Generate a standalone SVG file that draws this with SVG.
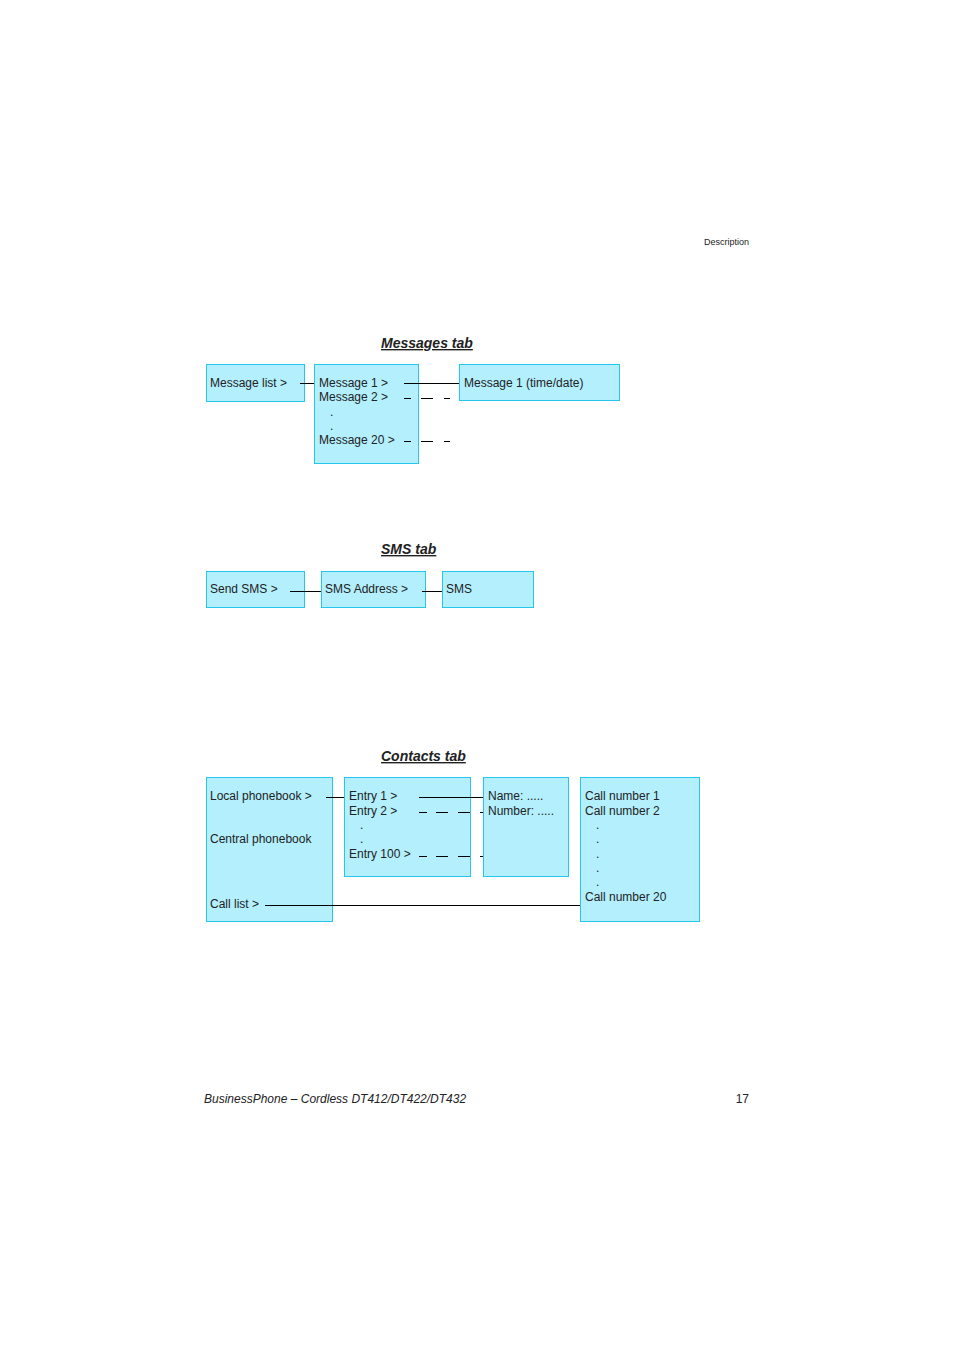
<svg xmlns="http://www.w3.org/2000/svg" width="954" height="1350" viewBox="0 0 954 1350">
<style>
.b{fill:#b3effd;stroke:#27c6ee;stroke-width:1}
text{font-family:"Liberation Sans",Arial,sans-serif;font-size:12px;fill:#222}
.h{font-size:14px;font-style:italic;font-weight:bold;text-decoration:underline}
.l{stroke:#000;stroke-width:1;fill:none}
</style>
<rect width="954" height="1350" fill="#fff"/>
<text x="749" y="245" font-size="9" text-anchor="end" style="font-size:9px">Description</text>
<text class="h" x="381" y="348">Messages tab</text>
<text class="h" x="381" y="554">SMS tab</text>
<text class="h" x="381" y="761">Contacts tab</text>
<g id="msglist"><rect class="b" x="206.5" y="364.5" width="98" height="37"/><text x="210" y="387">Message list &gt;</text></g>
<g id="msgs"><rect class="b" x="314.5" y="364.5" width="104" height="99"/><text x="319" y="387">Message 1 &gt;</text><text x="319" y="401">Message 2 &gt;</text><text x="330" y="416">.</text><text x="330" y="430">.</text><text x="319" y="444">Message 20 &gt;</text></g>
<g id="msg1"><rect class="b" x="459.5" y="364.5" width="160" height="36"/><text x="464" y="387">Message 1 (time/date)</text></g>
<g id="send"><rect class="b" x="206.5" y="571.5" width="98" height="36"/><text x="210" y="593">Send SMS &gt;</text></g>
<g id="addr"><rect class="b" x="321.5" y="571.5" width="104" height="36"/><text x="325" y="593">SMS Address &gt;</text></g>
<g id="sms"><rect class="b" x="442.5" y="571.5" width="91" height="36"/><text x="446" y="593">SMS</text></g>
<g id="pb"><rect class="b" x="206.5" y="777.5" width="126" height="144"/><text x="210" y="800">Local phonebook &gt;</text><text x="210" y="843">Central phonebook</text><text x="210" y="908">Call list &gt;</text></g>
<g id="entries"><rect class="b" x="344.5" y="777.5" width="126" height="99"/><text x="349" y="800">Entry 1 &gt;</text><text x="349" y="815">Entry 2 &gt;</text><text x="360" y="829">.</text><text x="360" y="843">.</text><text x="349" y="858">Entry 100 &gt;</text></g>
<g id="name"><rect class="b" x="483.5" y="777.5" width="85" height="99"/><text x="488" y="800">Name: .....</text><text x="488" y="815">Number: .....</text></g>
<g id="calls"><rect class="b" x="580.5" y="777.5" width="119" height="144"/><text x="585" y="800">Call number 1</text><text x="585" y="815">Call number 2</text><text x="596" y="829">.</text><text x="596" y="843">.</text><text x="596" y="858">.</text><text x="596" y="872">.</text><text x="596" y="886">.</text><text x="585" y="901">Call number 20</text></g>
<g id="connectors">
<path class="l" d="M300 383.5H314M404 383.5H459M404 398.5H411M421 398.5H433M444 398.5H450M404 441.5H411M421 441.5H433M444 441.5H450"/>
<path class="l" d="M290 591.5H321M422 591.5H442"/>
<path class="l" d="M326 797.5H344M419 797.5H483M419 812.5H427M436 812.5H448M458 812.5H470M480 812.5H483M419 856.5H427M436 856.5H448M458 856.5H470M480 856.5H483M265 905.5H580"/>
</g>
<text x="204" y="1103" style="font-style:italic">BusinessPhone – Cordless DT412/DT422/DT432</text>
<text x="749" y="1103" text-anchor="end">17</text>
</svg>
